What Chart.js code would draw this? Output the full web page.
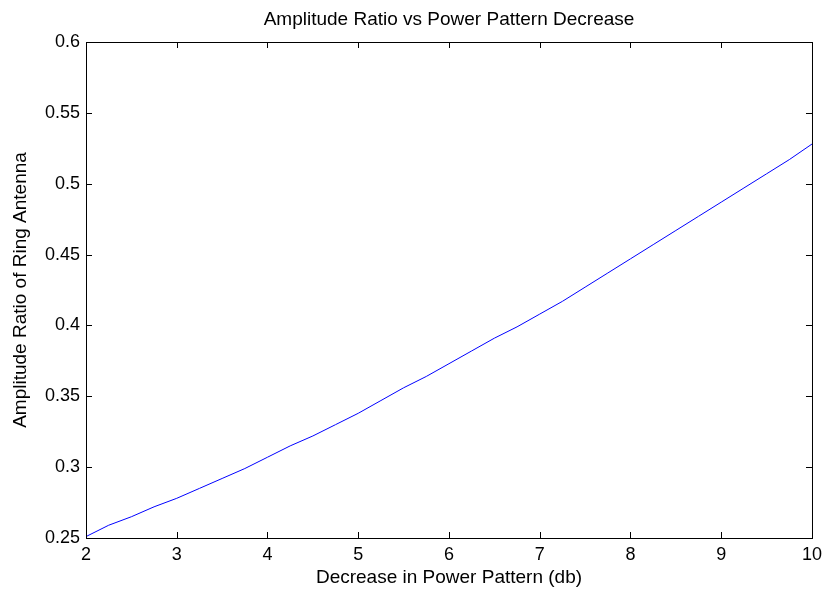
<!DOCTYPE html>
<html>
<head>
<meta charset="utf-8">
<title>Amplitude Ratio vs Power Pattern Decrease</title>
<script src="https://cdn.jsdelivr.net/npm/chart.js@4.4.1/dist/chart.umd.min.js"></script>
<style>
  html, body { margin: 0; padding: 0; background: #fff; }
  #grafico { display: block; }
</style>
</head>
<body>
<canvas id="grafico" width="828" height="597"></canvas>
<script>
// Datos
const decrementoDb = [
  2.0, 2.25, 2.5, 2.75, 3.0, 3.25, 3.5, 3.75, 4.0, 4.25, 4.5, 4.75,
  5.0, 5.25, 5.5, 5.75, 6.0, 6.25, 6.5, 6.75, 7.0, 7.25, 7.5, 7.75,
  8.0, 8.25, 8.5, 8.75, 9.0, 9.25, 9.5, 9.75, 10.0
];
const razonAmplitud = [
  0.251, 0.259, 0.265, 0.272, 0.278, 0.285, 0.292, 0.299, 0.307, 0.315, 0.322, 0.330,
  0.338, 0.347, 0.356, 0.364, 0.373, 0.382, 0.391, 0.399, 0.408, 0.417, 0.427, 0.437,
  0.447, 0.457, 0.467, 0.477, 0.487, 0.497, 0.507, 0.517, 0.528
];
const ticksX = [2, 3, 4, 5, 6, 7, 8, 9, 10];
const ticksY = [0.25, 0.3, 0.35, 0.4, 0.45, 0.5, 0.55, 0.6];

const fuente = "'Liberation Sans', Arial, Helvetica, sans-serif";

// Caja del eje y marcas hacia dentro (estilo MATLAB)
const marcoPlugin = {
  id: "marco",
  afterDraw(chart) {
    const { ctx, chartArea: a, scales: { x, y } } = chart;
    const largo = 6;
    ctx.save();
    ctx.strokeStyle = "#000";
    ctx.lineWidth = 1;
    ctx.strokeRect(a.left + 0.5, a.top + 0.5, a.width, a.height);
    ctx.beginPath();
    ticksX.forEach((v) => {
      const px = Math.round(x.getPixelForValue(v)) + 0.5;
      ctx.moveTo(px, a.bottom);
      ctx.lineTo(px, a.bottom - largo);
      ctx.moveTo(px, a.top);
      ctx.lineTo(px, a.top + largo);
    });
    ticksY.forEach((v) => {
      const py = Math.round(y.getPixelForValue(v)) + 0.5;
      ctx.moveTo(a.left, py);
      ctx.lineTo(a.left + largo, py);
      ctx.moveTo(a.right, py);
      ctx.lineTo(a.right - largo, py);
    });
    ctx.stroke();
    ctx.restore();
  },
};

new Chart(document.getElementById("grafico"), {
  type: "line",
  data: {
    datasets: [
      {
        data: decrementoDb.map((v, i) => ({ x: v, y: razonAmplitud[i] })),
        borderColor: "#0000ff",
        borderWidth: 1,
        pointRadius: 0,
        tension: 0,
        fill: false,
      },
    ],
  },
  options: {
    responsive: false,
    animation: false,
    layout: { padding: { left: 0, right: 15, top: 0, bottom: 0 } },
    plugins: {
      legend: { display: false },
      tooltip: { enabled: false },
      title: {
        display: true,
        fullSize: false,
        text: "Amplitude Ratio vs Power Pattern Decrease",
        color: "#000",
        font: { family: fuente, size: 19, weight: "normal" },
        padding: { top: 8.6, bottom: 10.6 },
      },
    },
    scales: {
      x: {
        type: "linear",
        min: 2,
        max: 10,
        afterFit: (s) => { s.height = 59; },
        afterBuildTicks: (s) => { s.ticks = ticksX.map((v) => ({ value: v })); },
        grid: { display: false, drawTicks: false },
        border: { display: false },
        ticks: {
          padding: 6,
          color: "#000",
          maxRotation: 0,
          font: { family: fuente, size: 18 },
          callback: (v) => String(v),
        },
        title: {
          display: true,
          text: "Decrease in Power Pattern (db)",
          color: "#000",
          font: { family: fuente, size: 19 },
          padding: { top: 0, bottom: 7.6 },
        },
      },
      y: {
        type: "linear",
        min: 0.25,
        max: 0.6,
        afterFit: (s) => { s.width = 86; },
        afterBuildTicks: (s) => { s.ticks = ticksY.map((v) => ({ value: v })); },
        grid: { display: false, drawTicks: false },
        border: { display: false },
        ticks: {
          padding: 6,
          color: "#000",
          font: { family: fuente, size: 18 },
          callback: (v) => String(Number(v.toFixed(2))),
        },
        title: {
          display: true,
          text: "Amplitude Ratio of Ring Antenna",
          color: "#000",
          font: { family: fuente, size: 19 },
          padding: { top: 9.6, bottom: 0 },
        },
      },
    },
  },
  plugins: [marcoPlugin],
});
</script>
</body>
</html>
